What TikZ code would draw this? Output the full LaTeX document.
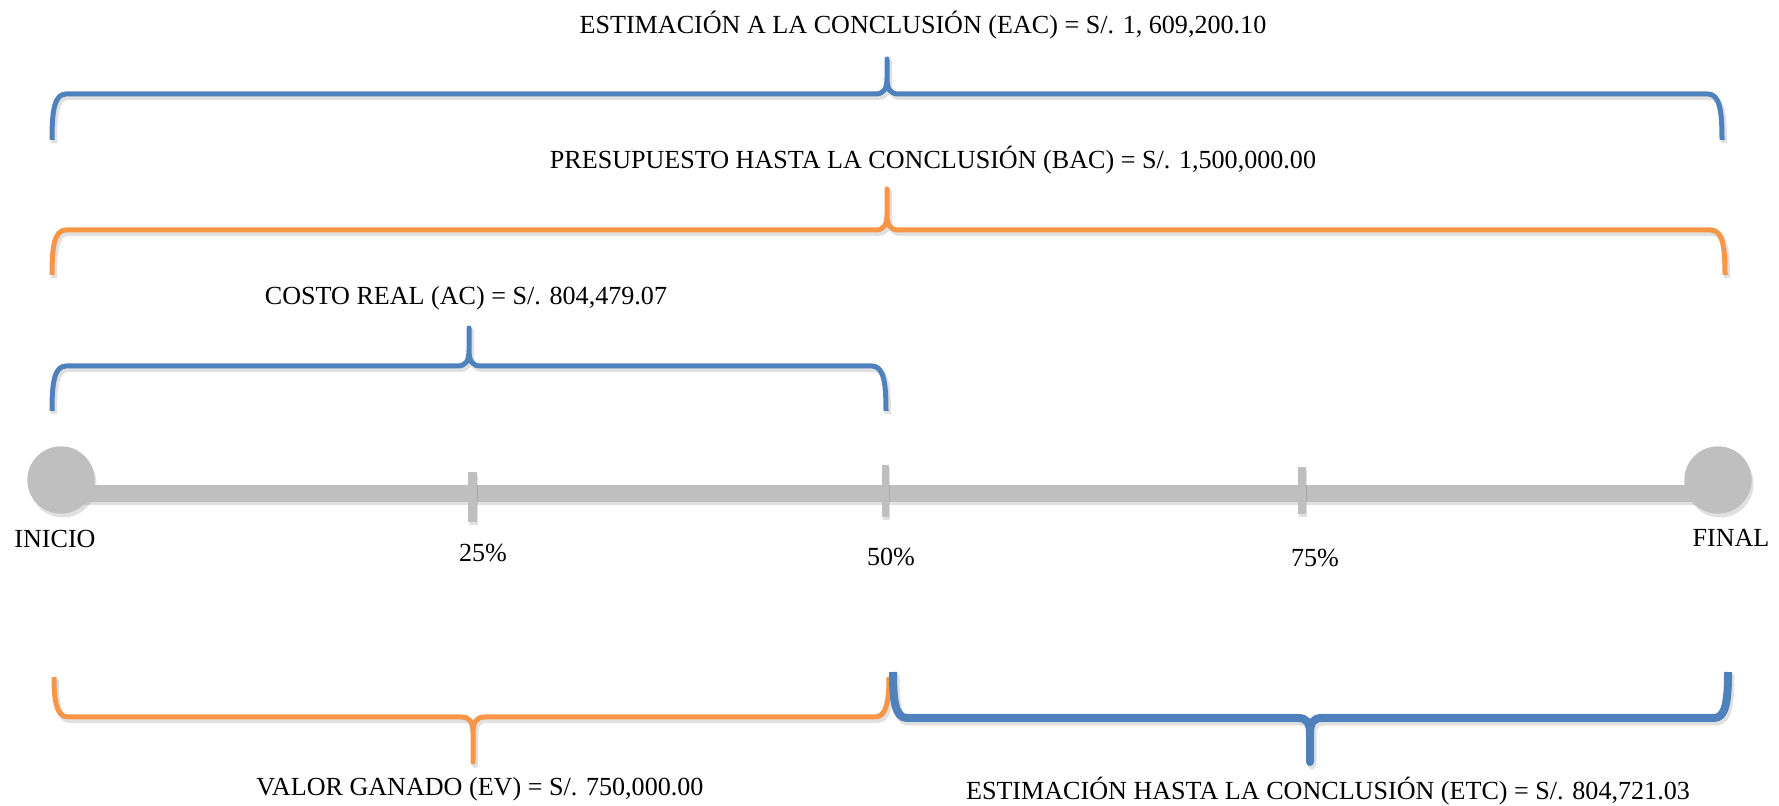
\documentclass[tikz,border=0pt]{standalone}
\usepackage{fontspec}
\setmainfont{Liberation Serif}
\definecolor{bblue}{HTML}{4F81BD}
\definecolor{borange}{HTML}{F79646}
\definecolor{tgray}{HTML}{BFBFBF}
% #1 x1, #2 xm, #3 x2, #4 yend, #5 yh, #6 ypeak, #7 dir (1 top, -1 bottom), #8 style
\newcommand{\bracedraw}[8]{%
  \draw[#8] ({#1},{#4}) .. controls ({#1},{#5+#7*18}) and ({#1+2},{#5}) .. ({#1+14},{#5})
    -- ({#2-12},{#5}) .. controls ({#2-3},{#5}) and ({#2},{#5-#7*5}) .. ({#2},{#5-#7*16})
    -- ({#2},{#6}) -- ({#2},{#5-#7*16})
    .. controls ({#2},{#5-#7*5}) and ({#2+3},{#5}) .. ({#2+12},{#5})
    -- ({#3-14},{#5}) .. controls ({#3-2},{#5}) and ({#3},{#5+#7*18}) .. ({#3},{#4});}
\newcommand{\shadowbrace}[8]{%
  \begin{scope}[shift={(2,3)}]\bracedraw{#1}{#2}{#3}{#4}{#5}{#6}{#7}{#8}\end{scope}}
\begin{document}
\begin{tikzpicture}[x=0.5pt,y=-0.5pt,
  lbl/.style={font=\fontsize{13.05}{15}\selectfont, inner sep=0pt},
  brc/.style={line width=2.5pt, line join=round},
  shd/.style={line width=3pt, line join=round, draw=black, opacity=0.12},
  dot/.style={circle, fill=tgray, minimum size=33.5pt, inner sep=0pt},
  dotshd/.style={circle, fill=black, opacity=0.12, minimum size=33.5pt, inner sep=0pt},
  bar/.style={draw=tgray, line width=8.5pt},
  tick/.style={fill=tgray}]
\useasboundingbox (0,0) rectangle (1779,806);
% top braces
\shadowbrace{52}{887}{1722}{140}{94}{59}{1}{shd}
\bracedraw{52}{887}{1722}{140}{94}{59}{1}{brc, draw=bblue}
\shadowbrace{52}{887}{1725}{275}{230}{189}{1}{shd}
\bracedraw{52}{887}{1725}{275}{230}{189}{1}{brc, draw=borange}
\shadowbrace{52}{469}{886}{411}{366}{328}{1}{shd}
\bracedraw{52}{469}{886}{411}{366}{328}{1}{brc, draw=bblue}
% bottom braces
\shadowbrace{54}{473}{889}{677}{717}{762}{-1}{shd}
\bracedraw{54}{473}{889}{677}{717}{762}{-1}{brc, draw=borange}
\shadowbrace{893}{1310}{1728}{672}{718}{762}{-1}{shd, line width=4.5pt}
\bracedraw{893}{1310}{1728}{672}{718}{762}{-1}{brc, draw=bblue, line width=4pt}
% timeline
\node[dotshd] (inis) at (63,484) {};
\node[dotshd] (fins) at (1720,484) {};
\node[dot] (ini) at (61,480) {};
\node[dot] (fin) at (1718,480) {};
\draw[draw=black, opacity=0.12, line width=8.5pt] ([yshift=-8.5pt]ini.center) -- ([yshift=-8.5pt]fin.center);
\draw[bar] ([yshift=-6.75pt]ini.center) -- ([yshift=-6.75pt]fin.center);
\node[dot] at (ini) {};
\node[dot] at (fin) {};
\fill[black, opacity=0.12] (469,475) rectangle (478,525);
\fill[black, opacity=0.12] (883,468) rectangle (890,520);
\fill[black, opacity=0.12] (1299,470) rectangle (1307,517);
\fill[tick] (468,472) rectangle (477,522);
\fill[tick] (882,465) rectangle (889,517);
\fill[tick] (1298,467) rectangle (1306,514);
% labels
\node[lbl] (eac) at (923,25) {ESTIMACIÓN A LA CONCLUSIÓN (EAC) = S/. 1, 609,200.10};
\node[lbl] (bac) at (933,160) {PRESUPUESTO HASTA LA CONCLUSIÓN (BAC) = S/. 1,500,000.00};
\node[lbl] (ac) at (466,298) {COSTO REAL (AC) = S/. 804,479.07};
\node[lbl] (inil) at (55,539) {INICIO};
\node[lbl] (p25) at (483,553) {25\%};
\node[lbl] (p50) at (891,557) {50\%};
\node[lbl] (p75) at (1315,558) {75\%};
\node[lbl] (finl) at (1731,538) {FINAL};
\node[lbl] (ev) at (480,789) {VALOR GANADO (EV) = S/. 750,000.00};
\node[lbl] (etc) at (1328,791) {ESTIMACIÓN HASTA LA CONCLUSIÓN (ETC) = S/. 804,721.03};
\end{tikzpicture}
\end{document}
